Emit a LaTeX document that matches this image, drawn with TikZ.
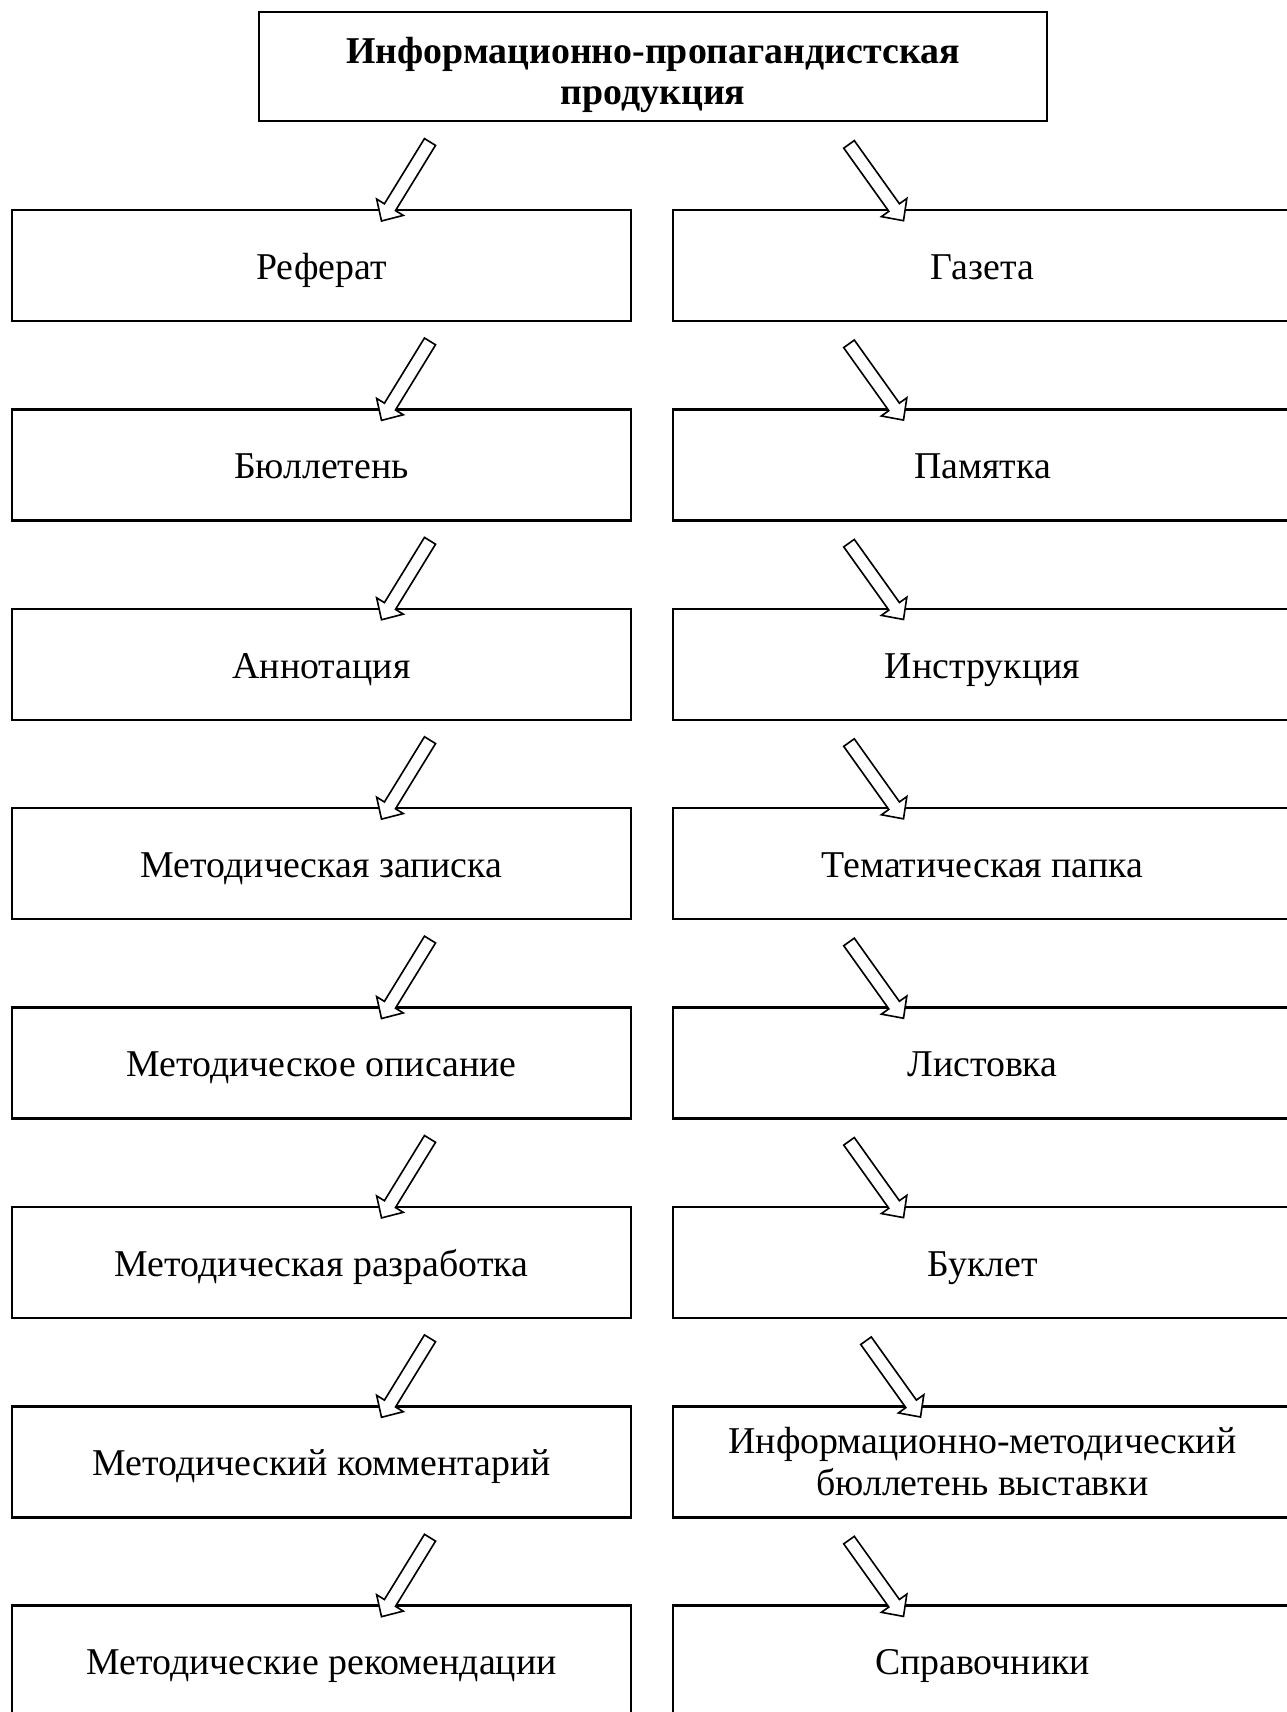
\documentclass[tikz,border=0pt]{standalone}
\usepackage{fontspec}
\setmainfont{Liberation Serif}
\usepackage{tikz}
\usetikzlibrary{calc}
\usetikzlibrary{positioning}

\begin{document}
\begin{tikzpicture}[x=0.013cm, y=-0.013cm, node distance=1.149cm and 0.546cm]
  \tikzstyle{head}=[draw, line width=0.9pt, outer sep=0pt, inner sep=0pt, align=center, minimum width=10.244cm, minimum height=1.417cm, font=\fontsize{14}{15.5}\selectfont\bfseries]
  \tikzstyle{item}=[draw, line width=0.9pt, outer sep=0pt, inner sep=0pt, align=center, minimum width=8.047cm, minimum height=1.443cm, text height=12pt, text depth=1.8pt, font=\fontsize{14}{15.5}\selectfont]
  \tikzstyle{hollow}=[draw, fill=white, line width=0.6pt, line join=miter]
  \tikzstyle{larrow}=[hollow, to path={let \p1=($(\tikztotarget.north west)+(418,-68)$), \p2=($(\tikztotarget.north west)+(369.5,11)$), \p3=($(\p2)!0.21cm!(\p1)$) in
    ($(\p1)!0.0845cm!90:(\p2)$) -- ($(\p3)!0.0845cm!90:(\p2)$) -- ($(\p3)!0.203cm!90:(\p2)$) -- (\p2)
    -- ($(\p3)!0.203cm!-90:(\p2)$) -- ($(\p3)!0.0845cm!-90:(\p2)$) -- ($(\p1)!0.0845cm!-90:(\p2)$) -- cycle}]
  \tikzstyle{rarrow}[0]=[hollow, to path={let \p1=($(\tikztotarget.north west)+(176+#1,-65.6)$), \p2=($(\tikztotarget.north west)+(230.5+#1,10.7)$), \p3=($(\p2)!0.21cm!(\p1)$) in
    ($(\p1)!0.0845cm!90:(\p2)$) -- ($(\p3)!0.0845cm!90:(\p2)$) -- ($(\p3)!0.203cm!90:(\p2)$) -- (\p2)
    -- ($(\p3)!0.203cm!-90:(\p2)$) -- ($(\p3)!0.0845cm!-90:(\p2)$) -- ($(\p1)!0.0845cm!-90:(\p2)$) -- cycle}]
  \useasboundingbox (0,0) rectangle (1286,1712);

  \node[head] (top) at (653,66.5) {\rule{0pt}{16pt}Информационно-пропагандистская\\продукция};
  % left column
  \node[item] (L1) at (321.5,265.5) {Реферат};
  \node[item] (L2) [below=of L1] {Бюллетень};
  \node[item] (L3) [below=of L2] {Аннотация};
  \node[item] (L4) [below=of L3] {Методическая записка};
  \node[item] (L5) [below=of L4] {Методическое описание};
  \node[item] (L6) [below=of L5] {Методическая разработка};
  \node[item] (L7) [below=of L6] {Методический комментарий};
  \node[item] (L8) [below=of L7] {Методические рекомендации};
  % right column
  \node[item] (R1) [right=of L1] {Газета};
  \node[item] (R2) [right=of L2] {Памятка};
  \node[item] (R3) [right=of L3] {Инструкция};
  \node[item] (R4) [right=of L4] {Тематическая папка};
  \node[item] (R5) [right=of L5] {Листовка};
  \node[item] (R6) [right=of L6] {Буклет};
  \node[item, text height={}, text depth={}] (R7) [right=of L7] {Информационно-методический\\бюллетень выставки};
  \node[item] (R8) [right=of L8] {Справочники};

  \path
    (top) edge[larrow] (L1)
    (L1) edge[larrow] (L2)
    (L2) edge[larrow] (L3)
    (L3) edge[larrow] (L4)
    (L4) edge[larrow] (L5)
    (L5) edge[larrow] (L6)
    (L6) edge[larrow] (L7)
    (L7) edge[larrow] (L8)
    (top) edge[rarrow] (R1)
    (R1) edge[rarrow] (R2)
    (R2) edge[rarrow] (R3)
    (R3) edge[rarrow] (R4)
    (R4) edge[rarrow] (R5)
    (R5) edge[rarrow] (R6)
    (R6) edge[rarrow=17] (R7)
    (R7) edge[rarrow] (R8);
\end{tikzpicture}
\end{document}
